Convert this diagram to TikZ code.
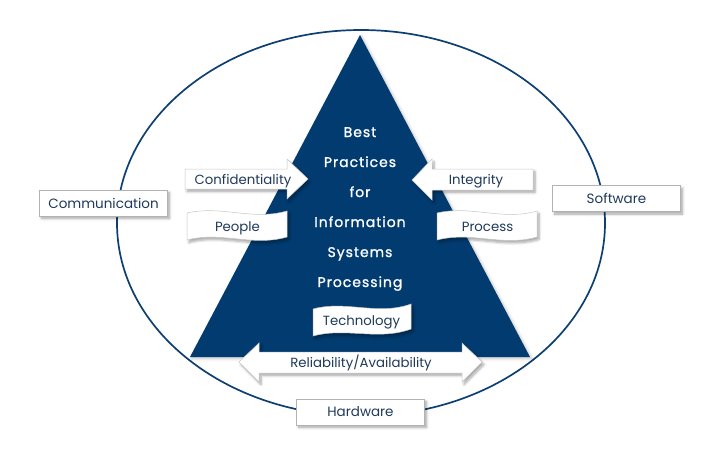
\documentclass[tikz,border=0pt]{standalone}
\usepackage{fontspec}
\setmainfont{Poppins}
\newfontfamily\pyramidfont[FakeBold=1.2,LetterSpace=7]{Poppins}
\usetikzlibrary{shadows.blur}
\definecolor{pyramidblue}{HTML}{013B70}
\definecolor{labelink}{HTML}{1F3A5C}
\definecolor{rimblue}{HTML}{0E3F73}
\begin{document}
\begin{tikzpicture}[x=1pt,y=-1pt,
  softshadow/.style={blur shadow={shadow xshift=2pt,shadow yshift=-2.5pt,shadow blur radius=2.5pt,shadow blur steps=6,shadow opacity=35}},
  labelbox/.style={draw=black!30,line width=0.6pt,fill=white,minimum width=128pt,minimum height=26pt,inner sep=0pt,text=labelink,font=\fontsize{13.5}{15}\selectfont,softshadow},
  whiteshape/.style={fill=white,draw=black!22,line width=0.5pt,softshadow},
  shapetext/.style={text=labelink,font=\fontsize{13.3}{15}\selectfont,inner sep=0pt,anchor=base},
  pyramidtext/.style={text=white,font=\pyramidfont\fontsize{14}{16}\selectfont,inner sep=0pt,anchor=base}
]
\useasboundingbox (0,0) rectangle (721,451);

% outer ring
\draw[rimblue,line width=1.7pt] (361,223) ellipse [x radius=244, y radius=193];

% pyramid
\fill[pyramidblue,blur shadow={shadow xshift=1.5pt,shadow yshift=-1.5pt,shadow blur radius=3pt,shadow opacity=25}]
  (360,35) -- (530,357) -- (190,357) -- cycle;

\node[pyramidtext] (best)  at (360,137) {Best};
\node[pyramidtext] (pract) at (360,167) {Practices};
\node[pyramidtext] (for)   at (360,197) {for};
\node[pyramidtext] (info)  at (360,227) {Information};
\node[pyramidtext] (sys)   at (360,257) {Systems};
\node[pyramidtext] (proc)  at (360,287) {Processing};

% arrows pointing into the pyramid
\path[whiteshape] (185,169) -- (287,169) -- (287,159) -- (308,179) -- (287,199) -- (287,189) -- (185,189) -- cycle;
\node[shapetext] (conf) at (243,184) {Confidentiality};

\path[whiteshape] (533,169) -- (432,169) -- (432,159) -- (412,180) -- (432,200) -- (432,190) -- (533,190) -- cycle;
\node[shapetext] (integ) at (476,184) {Integrity};

% waving banners
\path[whiteshape] (187,213) .. controls (222,205) and (252,221) .. (287,211)
  -- (287,237) .. controls (252,247) and (222,231) .. (187,240) -- cycle;
\node[shapetext] (people) at (237.5,231) {People};

\path[whiteshape] (437,213) .. controls (472,205) and (502,221) .. (537,211)
  -- (537,237) .. controls (502,247) and (472,231) .. (437,240) -- cycle;
\node[shapetext] (process) at (487.5,231) {Process};

\path[whiteshape] (313,309) .. controls (346,300) and (378,316) .. (411,304)
  -- (411,329) .. controls (378,341) and (346,327) .. (313,336) -- cycle;
\node[shapetext] (tech) at (361.5,325) {Technology};

% double-headed arrow across the base
\path[whiteshape] (259,352) -- (462,352) -- (462,343) -- (482,362) -- (462,382) -- (462,373)
  -- (259,373) -- (259,382) -- (239,362) -- (259,343) -- cycle;
\node[shapetext] (rel) at (361,367) {Reliability/Availability};

% labels on the ring
\node[labelbox] (comm) at (103.5,203) {Communication};
\node[labelbox] (soft) at (616.5,198.5) {Software};
\node[labelbox] (hard) at (360.5,412) {Hardware};
\end{tikzpicture}
\end{document}
